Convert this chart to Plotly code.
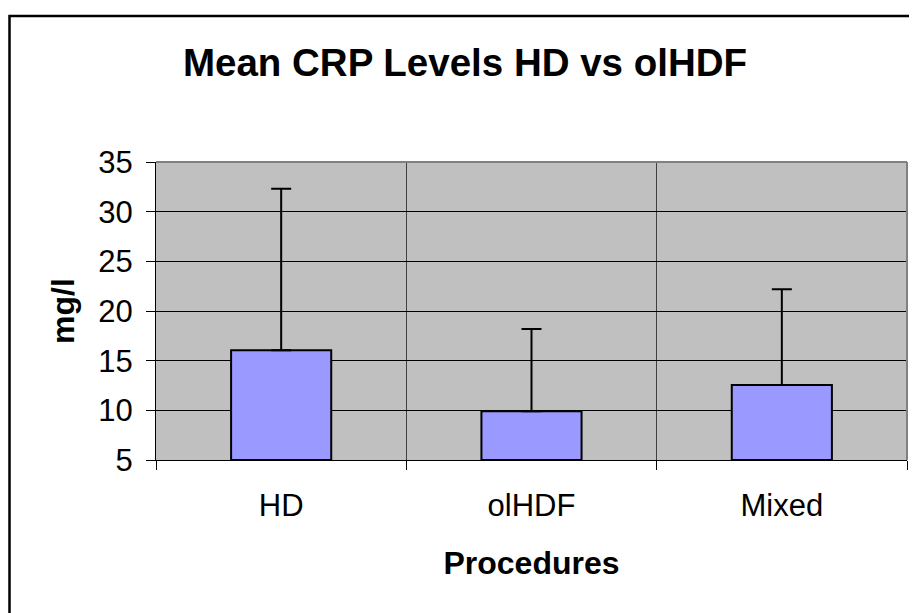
import plotly.graph_objects as go

categories = ["HD", "olHDF", "Mixed"]
means = [16.05, 9.9, 12.55]
errors_plus = [16.25, 8.3, 9.65]
y_ticks = [5, 10, 15, 20, 25, 30, 35]

fig = go.Figure()
fig.add_trace(go.Bar(
    x=categories, y=[m - 5 for m in means], base=5,
    marker=dict(color="#9999FF", line=dict(color="black", width=2)),
    width=0.4,
    error_y=dict(type="data", symmetric=False, array=errors_plus,
                 arrayminus=[0] * len(means), color="black", thickness=2, width=10),
    hoverinfo="skip",
))

FONT = "Liberation Sans, Arial, sans-serif"
W, H = 909, 605
L, R, T, B = 148, 10, 154, 153
pw, ph = W - L - R, H - T - B
fig.update_layout(
    width=W, height=H,
    margin=dict(l=L, r=R, t=T, b=B),
    paper_bgcolor="white", plot_bgcolor="#C0C0C0",
    showlegend=False,
    font=dict(family=FONT, color="black", size=31),
    title=dict(text="<b>Mean CRP Levels HD vs olHDF</b>", font=dict(size=38.5, family=FONT, color="black"),
               x=(457) / W, xref="container", xanchor="center",
               y=1 - 55 / H, yref="container", yanchor="middle"),
    xaxis=dict(
        type="category", tickson="boundaries", showgrid=True, gridcolor="#404040", gridwidth=1,
        ticks="outside", ticklen=9, tickcolor="black", tickwidth=1,
        showline=True, linecolor="black", linewidth=1,
        tickfont=dict(size=31), ticklabelstandoff=18,
        title=dict(text="<b>Procedures</b>", font=dict(size=32), standoff=29),
    ),
    yaxis=dict(
        range=[5, 35], tickvals=y_ticks, showgrid=True, gridcolor="black", gridwidth=1,
        ticks="outside", ticklen=9, tickcolor="black", tickwidth=1,
        showline=True, linecolor="black", linewidth=1, zeroline=False,
        tickfont=dict(size=31), ticklabelstandoff=7,
        title=dict(text="<b>mg/l</b>", font=dict(size=32), standoff=14),
    ),
    shapes=[
        dict(type="line", xref="x domain", yref="y domain", x0=0, x1=1, y0=1, y1=1,
             line=dict(color="#808080", width=2), layer="above"),
        dict(type="line", xref="x domain", yref="y domain", x0=1, x1=1, y0=0, y1=1,
             line=dict(color="#808080", width=2), layer="above"),
        dict(type="rect", xref="paper", yref="paper",
             x0=(1.5 - L) / pw, x1=(W + 20 - L) / pw,
             y0=(T + ph - (H + 20)) / ph, y1=(T + ph - 8) / ph,
             line=dict(color="black", width=2.5), fillcolor="rgba(0,0,0,0)", layer="above"),
    ],
)

fig.write_html("out.html")
